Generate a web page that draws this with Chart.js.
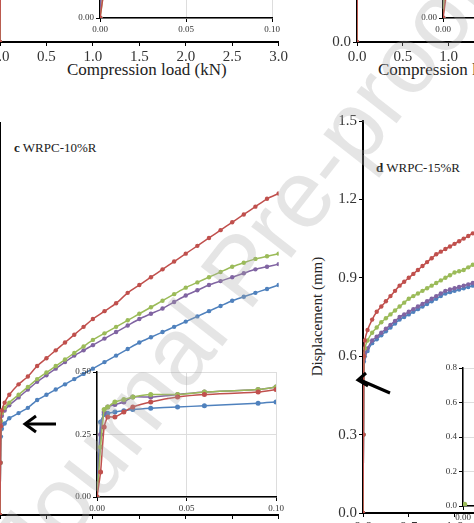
<!DOCTYPE html>
<html>
<head>
<meta charset="utf-8">
<script src="https://cdn.jsdelivr.net/npm/chart.js@4.4.0/dist/chart.umd.min.js"></script>
<style>
  body { margin: 0; width: 474px; height: 523px; overflow: hidden; background: #fff; position: relative; font-family: "Liberation Serif", serif; }
  canvas { position: absolute; }
  .lbl { position: absolute; color: #222; white-space: nowrap; font-family: "Liberation Serif", serif; }
  .wm { position: absolute; left: -190px; top: 215px; width: 860px; text-align: center; font-family: "Liberation Sans", sans-serif; white-space: nowrap;
        font-size: 96px; color: rgba(170,170,170,0.3); transform: rotate(-52deg); pointer-events: none; z-index: 10; }
</style>
</head>
<body>
<div class="lbl" style="left:67px;top:60px;font-size:17px;">Compression load (kN)</div>
<div class="lbl" style="left:378px;top:60px;font-size:17px;">Compression load (kN)</div>
<div class="lbl" style="left:14px;top:140px;font-size:13px;"><b>c</b> WRPC-10%R</div>
<div class="lbl" style="left:376px;top:160px;font-size:13px;"><b>d</b> WRPC-15%R</div>
<div class="lbl" style="left:258px;top:308px;font-size:15px;transform:rotate(-90deg);">Displacement (mm)</div>
<svg style="position:absolute;left:0;top:0;z-index:5" width="474" height="523">
  <g stroke="#000" stroke-width="3" fill="none">
    <line x1="56" y1="424" x2="26" y2="424"/><polyline points="36,416 25,424 36,432"/>
    <line x1="390" y1="393" x2="360" y2="380"/><polyline points="366,373 358,380 368,386"/>
  </g>
</svg>
<div class="wm">Journal Pre-proof</div>
<script>
const COLORS = ['#c0504d', '#9bbb59', '#8064a2', '#4f81bd'];

// main curves, panels a and c (load 0-3 kN)
const loadMain = [0, 0.005, 0.01, 0.02, 0.05, 0.1, 0.2, 0.3, 0.4, 0.5, 0.6, 0.7, 0.8, 0.9, 1.0, 1.125, 1.25, 1.375, 1.5, 1.625, 1.75, 1.875, 2.0, 2.125, 2.25, 2.375, 2.5, 2.625, 2.75, 2.875, 3.0];
const cRed    = [0, 0.20, 0.34, 0.40, 0.43, 0.46, 0.50, 0.53, 0.57, 0.60, 0.63, 0.66, 0.69, 0.72, 0.75, 0.78, 0.81, 0.85, 0.88, 0.91, 0.94, 0.97, 1.00, 1.03, 1.06, 1.09, 1.12, 1.15, 1.18, 1.21, 1.23];
const cGreen  = [0, 0.20, 0.36, 0.39, 0.41, 0.43, 0.46, 0.49, 0.52, 0.545, 0.57, 0.595, 0.62, 0.645, 0.67, 0.695, 0.72, 0.745, 0.77, 0.795, 0.82, 0.845, 0.87, 0.89, 0.91, 0.93, 0.95, 0.965, 0.98, 0.99, 1.00];
const cPurple = [0, 0.20, 0.35, 0.38, 0.40, 0.42, 0.45, 0.48, 0.51, 0.535, 0.56, 0.585, 0.61, 0.63, 0.65, 0.675, 0.70, 0.725, 0.75, 0.77, 0.79, 0.815, 0.84, 0.86, 0.88, 0.895, 0.91, 0.925, 0.94, 0.95, 0.96];
const cBlue   = [0, 0.20, 0.30, 0.33, 0.35, 0.37, 0.39, 0.41, 0.44, 0.46, 0.48, 0.50, 0.52, 0.54, 0.56, 0.585, 0.61, 0.635, 0.66, 0.68, 0.70, 0.72, 0.74, 0.76, 0.78, 0.80, 0.82, 0.835, 0.85, 0.865, 0.88];
const aRed    = [0, 0.30, 0.50, 0.56, 0.60, 0.64, 0.70, 0.75, 0.80, 0.84, 0.88, 0.92, 0.96, 1.00, 1.03, 1.07, 1.10, 1.14, 1.17, 1.20, 1.23, 1.26, 1.29, 1.32, 1.34, 1.37, 1.39, 1.42, 1.44, 1.46, 1.48];
const aBlue   = [0, 0.30, 0.48, 0.52, 0.55, 0.58, 0.62, 0.66, 0.70, 0.73, 0.77, 0.80, 0.83, 0.86, 0.89, 0.93, 0.96, 0.99, 1.02, 1.05, 1.08, 1.11, 1.14, 1.17, 1.19, 1.22, 1.24, 1.27, 1.29, 1.31, 1.33];

// panels b and d (load axis 92 px per kN)
const loadD   = [0, 0.005, 0.01, 0.02, 0.05, 0.1, 0.15, 0.2, 0.25, 0.3, 0.35, 0.4, 0.45, 0.5, 0.55, 0.6, 0.65, 0.7, 0.75, 0.8, 0.85, 0.9, 0.95, 1.0, 1.05, 1.1, 1.15, 1.2, 1.3, 1.4];
const dRed    = [0, 0.30, 0.60, 0.66, 0.70, 0.74, 0.77, 0.79, 0.81, 0.83, 0.85, 0.87, 0.885, 0.90, 0.915, 0.93, 0.945, 0.96, 0.975, 0.99, 1.00, 1.01, 1.02, 1.03, 1.04, 1.05, 1.06, 1.07, 1.09, 1.11];
const dGreen  = [0, 0.30, 0.60, 0.63, 0.66, 0.69, 0.71, 0.73, 0.745, 0.76, 0.775, 0.79, 0.805, 0.82, 0.83, 0.84, 0.85, 0.86, 0.87, 0.88, 0.89, 0.90, 0.91, 0.92, 0.925, 0.93, 0.94, 0.95, 0.965, 0.98];
const dPurple = [0, 0.30, 0.59, 0.61, 0.63, 0.66, 0.675, 0.69, 0.705, 0.72, 0.735, 0.75, 0.76, 0.77, 0.78, 0.79, 0.80, 0.81, 0.82, 0.83, 0.84, 0.85, 0.855, 0.86, 0.865, 0.87, 0.875, 0.88, 0.895, 0.91];
const dBlue   = [0, 0.30, 0.58, 0.60, 0.62, 0.65, 0.665, 0.68, 0.695, 0.71, 0.725, 0.74, 0.75, 0.76, 0.77, 0.78, 0.79, 0.80, 0.81, 0.82, 0.83, 0.84, 0.845, 0.85, 0.855, 0.86, 0.865, 0.87, 0.885, 0.90];

// insets (load 0-0.10 kN)
const loadIn   = [0, 0.002, 0.004, 0.006, 0.01, 0.015, 0.02, 0.03, 0.045, 0.06, 0.09, 0.10];
const inRed    = [0, 0.10, 0.28, 0.32, 0.32, 0.34, 0.36, 0.38, 0.40, 0.41, 0.42, 0.43];
const inGreen  = [0, 0.20, 0.35, 0.36, 0.38, 0.39, 0.40, 0.41, 0.41, 0.42, 0.43, 0.44];
const inPurple = [0, 0.25, 0.34, 0.36, 0.37, 0.38, 0.40, 0.40, 0.41, 0.42, 0.43, 0.44];
const inBlue   = [0, 0.30, 0.33, 0.335, 0.34, 0.345, 0.35, 0.355, 0.36, 0.365, 0.375, 0.38];
const dInLoad  = [0, 0.001];
const dInGreen = [0, 0.01];

const whiteArea = {
  id: 'whiteArea',
  beforeDraw(chart, args, opts) {
    if (!opts.on) return;
    const a = chart.chartArea, c = chart.ctx;
    c.save(); c.fillStyle = '#fff'; c.fillRect(a.left, a.top, a.right - a.left, a.bottom - a.top); c.restore();
  }
};

function plot(o) {
  const pad = 10;
  const cv = document.createElement('canvas');
  const W = o.yw + o.w + pad, H = pad + o.h + o.xh;
  cv.width = W; cv.height = H;
  cv.style.left = (o.left - o.yw) + 'px';
  cv.style.top = (o.bottom - o.h - pad) + 'px';
  cv.style.zIndex = o.inset ? 2 : 1;
  document.body.appendChild(cv);
  const fs = o.inset ? 9 : 15;
  const axis = (min, max, step, dec, fit) => ({
    type: 'linear', min, max,
    ticks: { stepSize: step, color: '#333', font: { family: 'Liberation Serif', size: fs }, padding: 2,
             callback: v => v.toFixed(dec) },
    grid: { display: true, drawOnChartArea: !!o.inset, color: o.inset ? '#ddd' : '#000', tickLength: 4, tickColor: '#000' },
    border: { display: true, color: '#000', width: o.inset ? 1.5 : 2 },
    afterFit: fit
  });
  new Chart(cv, {
    type: 'line',
    data: {
      datasets: o.series.map(s => ({
        data: o.xs.map((x, i) => ({ x, y: s.v[i] })),
        borderColor: s.c, backgroundColor: s.c, borderWidth: 1.5,
        pointRadius: o.inset ? 2.5 : 2.2, pointBorderWidth: 0, tension: 0.2
      }))
    },
    options: {
      responsive: false, animation: false,
      layout: { padding: { top: pad, right: pad, left: 0, bottom: 0 } },
      plugins: { legend: { display: false }, tooltip: { enabled: false }, whiteArea: { on: !!o.inset } },
      scales: {
        x: axis(o.x[0], o.x[1], o.x[2], o.inset ? 2 : 1, s => { s.height = o.xh; }),
        y: axis(o.y[0], o.y[1], o.y[2], o.ydec, s => { s.width = o.yw; })
      }
    },
    plugins: [whiteArea]
  });
}

const ser = (r, g, p, b) => [
  { v: r, c: COLORS[0] }, { v: g, c: COLORS[1] }, { v: p, c: COLORS[2] }, { v: b, c: COLORS[3] }
];

// panel a (top-left, mostly cropped)
plot({ left: 0, bottom: 42, w: 280, h: 393, yw: 30, xh: 24, x: [0, 3, 0.5], y: [0, 1.5, 0.3], ydec: 1, xs: loadMain,
       series: ser(aRed, aRed, aBlue, aBlue) });
plot({ inset: true, left: 100, bottom: 18, w: 172, h: 125, yw: 24, xh: 14, x: [0, 0.1, 0.05], y: [0, 0.5, 0.25], ydec: 2, xs: loadIn,
       series: ser(inRed, inRed, inBlue, inBlue) });
// panel b (top-right, mostly cropped)
plot({ left: 357, bottom: 42, w: 276, h: 393, yw: 30, xh: 24, x: [0, 3, 0.5], y: [0, 1.5, 0.3], ydec: 1, xs: loadD,
       series: ser(dRed, dGreen, dPurple, dBlue) });
plot({ inset: true, left: 443, bottom: 18, w: 172, h: 125, yw: 24, xh: 14, x: [0, 0.1, 0.05], y: [0, 0.5, 0.25], ydec: 2, xs: loadIn,
       series: ser(inRed, inGreen, inPurple, inBlue) });
// panel c
plot({ left: 0, bottom: 515, w: 280, h: 393, yw: 30, xh: 24, x: [0, 3, 0.5], y: [0, 1.5, 0.3], ydec: 1, xs: loadMain,
       series: ser(cRed, cGreen, cPurple, cBlue) });
plot({ inset: true, left: 97, bottom: 497, w: 179, h: 125, yw: 24, xh: 14, x: [0, 0.1, 0.05], y: [0, 0.5, 0.25], ydec: 2, xs: loadIn,
       series: ser(inRed, inGreen, inPurple, inBlue) });
// panel d
plot({ left: 363, bottom: 513, w: 276, h: 393, yw: 30, xh: 24, x: [0, 3, 0.5], y: [0, 1.5, 0.3], ydec: 1, xs: loadD,
       series: ser(dRed, dGreen, dPurple, dBlue) });
plot({ inset: true, left: 463, bottom: 506, w: 172, h: 138, yw: 24, xh: 14, x: [0, 0.1, 0.05], y: [0, 0.8, 0.2], ydec: 1, xs: dInLoad,
       series: [{ v: dInGreen, c: COLORS[1] }] });
</script>
</body>
</html>
